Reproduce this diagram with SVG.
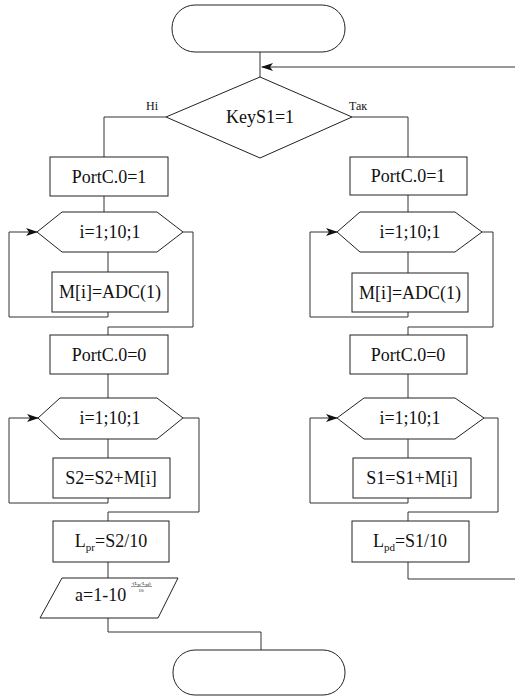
<svg xmlns="http://www.w3.org/2000/svg" width="515" height="697" viewBox="0 0 515 697" font-family="'Liberation Serif', 'DejaVu Serif', serif">
<style>
.s{fill:#fff;stroke:#222;stroke-width:1}
.t{font-size:18px;fill:#111;text-anchor:middle}
.l{font-size:12px;fill:#111}
.c{fill:none;stroke:#333;stroke-width:1}
</style>
<defs>
<marker id="a" markerWidth="12" markerHeight="8" refX="11" refY="4" orient="auto" markerUnits="userSpaceOnUse">
<path d="M0,0 L12,4 L0,8 L3,4 z" fill="#111"/>
</marker>
</defs>
<rect width="515" height="697" fill="#fff"/>
<g id="connectors">
<path class="c" d="M260,52 V77"/>
<path class="c" d="M515,67 H262" marker-end="url(#a)"/>
<path class="c" d="M166,117 H104 V157"/>
<path class="c" d="M104,196 V212"/>
<path class="c" d="M108,252 V272"/>
<path class="c" d="M108,312 V317 H9 V232 H37" marker-end="url(#a)"/>
<path class="c" d="M183,232 H193 V327 H108 V335"/>
<path class="c" d="M108,374 V398"/>
<path class="c" d="M108,439 V458"/>
<path class="c" d="M108,498 V503 H9 V418 H38" marker-end="url(#a)"/>
<path class="c" d="M183,418 H199 V512 H108 V521"/>
<path class="c" d="M108,562 V578"/>
<path class="c" d="M108,618 V632 H261 V650"/>
<path class="c" d="M352,117 H408 V157"/>
<path class="c" d="M408,195 V212"/>
<path class="c" d="M408,252 V273"/>
<path class="c" d="M408,312 V317 H310 V232 H337" marker-end="url(#a)"/>
<path class="c" d="M482,232 H493 V327 H408 V335"/>
<path class="c" d="M408,374 V398"/>
<path class="c" d="M408,439 V458"/>
<path class="c" d="M408,498 V503 H310 V418 H337" marker-end="url(#a)"/>
<path class="c" d="M484,418 H498 V512 H408 V521"/>
<path class="c" d="M408,562 V579 H515"/>
<text class="l" x="146" y="110">Ні</text>
<text class="l" x="349" y="110">Так</text>
</g>
<g id="start"><rect class="s" x="172" y="5" width="173" height="47" rx="23"/></g>
<g id="decision"><polygon class="s" points="260,77 352,117 260,158 166,117"/><text class="t" x="260" y="123">KeyS1=1</text></g>
<g id="l-port1"><rect class="s" x="50" y="157" width="118" height="39"/><text class="t" x="109" y="183">PortC.0=1</text></g>
<g id="l-loop1"><polygon class="s" points="37,232 62,212 157,212 183,232 157,252 62,252"/><text class="t" x="110" y="238">i=1;10;1</text></g>
<g id="l-adc"><rect class="s" x="52" y="272" width="116" height="40"/><text class="t" x="110" y="298">M[i]=ADC(1)</text></g>
<g id="l-port0"><rect class="s" x="50" y="335" width="118" height="39"/><text class="t" x="109" y="361">PortC.0=0</text></g>
<g id="l-loop2"><polygon class="s" points="38,418 60,398 157,398 183,418 157,439 60,439"/><text class="t" x="110" y="424">i=1;10;1</text></g>
<g id="l-sum"><rect class="s" x="53" y="458" width="117" height="40"/><text class="t" x="111" y="484">S2=S2+M[i]</text></g>
<g id="l-lpr"><rect class="s" x="53" y="521" width="116" height="41"/><text class="t" x="111" y="547">L<tspan font-size="11" dy="4">pr</tspan><tspan dy="-4">=S2/10</tspan></text></g>
<g id="l-a"><polygon class="s" points="62,578 178,578 158,618 40,618"/>
<text class="t" x="75" y="601" style="text-anchor:start">a=1-10</text>
<text class="t" x="141" y="585" style="font-size:5px">-(L<tspan font-size="3.5" dy="1">pr</tspan><tspan dy="-1">-L</tspan><tspan font-size="3.5" dy="1">pd</tspan><tspan dy="-1">)</tspan></text>
<line x1="131" y1="586.5" x2="152" y2="586.5" stroke="#333" stroke-width="0.5"/>
<text class="t" x="141" y="592" style="font-size:5px">10</text>
</g>
<g id="end"><rect class="s" x="173" y="650" width="172" height="45" rx="22"/></g>
<g id="r-port1"><rect class="s" x="350" y="157" width="117" height="38"/><text class="t" x="408" y="182">PortC.0=1</text></g>
<g id="r-loop1"><polygon class="s" points="337,232 360,212 455,212 482,232 455,252 360,252"/><text class="t" x="410" y="238">i=1;10;1</text></g>
<g id="r-adc"><rect class="s" x="352" y="273" width="116" height="39"/><text class="t" x="410" y="299">M[i]=ADC(1)</text></g>
<g id="r-port0"><rect class="s" x="350" y="335" width="117" height="39"/><text class="t" x="408" y="361">PortC.0=0</text></g>
<g id="r-loop2"><polygon class="s" points="337,418 364,398 455,398 484,418 455,439 364,439"/><text class="t" x="410" y="424">i=1;10;1</text></g>
<g id="r-sum"><rect class="s" x="353" y="458" width="118" height="40"/><text class="t" x="412" y="484">S1=S1+M[i]</text></g>
<g id="r-lpd"><rect class="s" x="352" y="521" width="117" height="41"/><text class="t" x="410" y="547">L<tspan font-size="11" dy="4">pd</tspan><tspan dy="-4">=S1/10</tspan></text></g>
</svg>
